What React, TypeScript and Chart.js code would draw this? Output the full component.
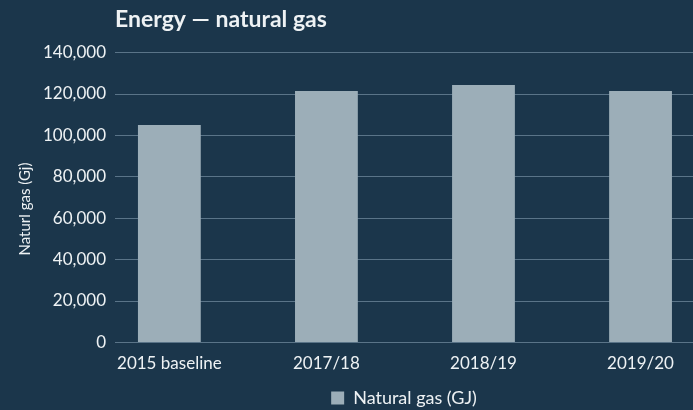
import React, { useEffect, useRef } from "react";
import { Chart, registerables } from "chart.js";

Chart.register(...registerables);

const categories = ["2015 baseline", "2017/18", "2018/19", "2019/20"];
const gasValues = [105000, 121500, 124400, 121500];
const yTicks = [0, 20000, 40000, 60000, 80000, 100000, 120000, 140000];

const BG = "#1b364b";
const BAR = "#9caeb8";
const GRID = "#5a7488";
const TEXT = "#eef2f4";
const FONT = "Lato, 'Open Sans', sans-serif";

export default function App() {
  const ref = useRef<HTMLCanvasElement | null>(null);

  useEffect(() => {
    if (!ref.current) return;
    const chart = new Chart(ref.current, {
      type: "bar",
      data: {
        datasets: [
          {
            label: "Natural gas (GJ)",
            data: gasValues.map((v, i) => ({ x: i, y: v })),
            backgroundColor: BAR,
            borderWidth: 0,
            barPercentage: 0.4,
            categoryPercentage: 1,
          },
        ],
      },
      options: {
        animation: false,
        responsive: true,
        maintainAspectRatio: false,
        layout: { padding: { left: 16, right: 0, top: 0, bottom: -7 } },
        plugins: {
          title: {
            display: true,
            text: "Energy — natural gas",
            align: "start",
            fullSize: false,
            color: TEXT,
            font: { family: FONT, size: 23, weight: "bold" },
            padding: { top: 6, bottom: 19 },
          },
          legend: {
            position: "bottom",
            fullSize: false,
            labels: {
              color: TEXT,
              boxWidth: 13,
              boxHeight: 13,
              padding: 4,
              font: { family: FONT, size: 18 },
            },
          },
          tooltip: { enabled: false },
        },
        scales: {
          x: {
            type: "linear",
            offset: false,
            bounds: "data",
            min: -0.346,
            max: 3.334,
            grid: { display: false },
            border: { display: false },
            afterBuildTicks: (scale: any) => {
              scale.ticks = categories.map((_, i) => ({ value: i }));
            },
            ticks: {
              color: TEXT,
              font: { family: FONT, size: 17 },
              maxRotation: 0,
              autoSkip: false,
              includeBounds: false,
              callback: (v: any) => categories[Math.round(Number(v))] ?? "",
            },
            title: {
              display: true,
              text: "",
              font: { family: FONT, size: 1 },
              padding: { top: 0, bottom: 7 },
            },
          },
          y: {
            min: 0,
            max: 140000,
            afterBuildTicks: (scale: any) => {
              scale.ticks = yTicks.map((v) => ({ value: v }));
            },
            grid: { color: GRID, lineWidth: 1, drawTicks: false },
            border: { display: false },
            ticks: {
              color: TEXT,
              padding: 9,
              font: { family: FONT, size: 17 },
              callback: (v: any) => Number(v).toLocaleString("en-US"),
            },
            title: {
              display: true,
              text: "Naturl gas (Gj)      ",
              color: TEXT,
              font: { family: FONT, size: 15 },
              padding: { top: 0, bottom: 0 },
            },
          },
        },
      },
    });
    return () => chart.destroy();
  }, []);

  return (
    <div
      style={{
        position: "absolute",
        left: 0,
        top: 0,
        width: 693,
        height: 410,
        background: BG,
      }}
    >
      <canvas ref={ref} />
    </div>
  );
}
